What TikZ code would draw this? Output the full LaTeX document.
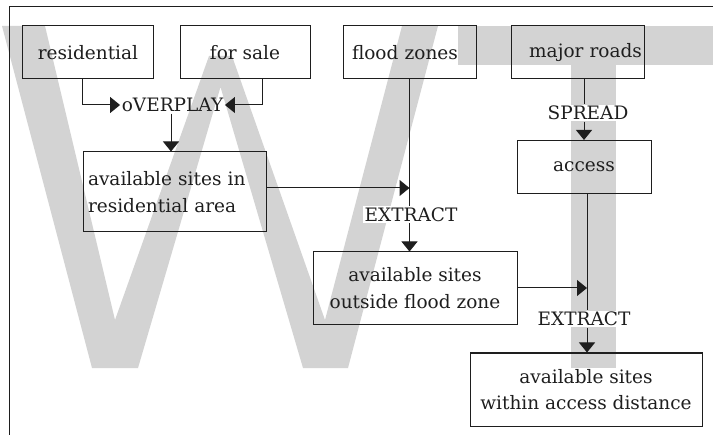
\documentclass[tikz,border=0pt]{standalone}
\usepackage{fontspec}
\setmainfont{DejaVu Serif}
\usetikzlibrary{arrows.meta}
\definecolor{wmgray}{RGB}{211,211,211}
\definecolor{ink}{RGB}{30,30,30}
\begin{document}
\begin{tikzpicture}[x=1bp,y=-1bp,
  font=\fontsize{18.5bp}{26.5bp}\selectfont,
  every node/.style={text=ink},
  box/.style={draw=ink,line width=1bp,inner sep=0pt,align=center},
  tag/.style={fill=white,inner xsep=1.5bp,inner ysep=1.5bp},
  conn/.style={draw=ink,line width=1bp},
  arr/.style={conn,-{Triangle[width=16bp,length=10bp]}}]
\useasboundingbox (0,0) rectangle (713,435);

% watermark letters behind everything
\fill[fill=wmgray] (2,26) -- (45,26) -- (115,320) -- (209,56) -- (232,56)
  -- (325,320) -- (402,26) -- (438,26) -- (348,368) -- (303,368) -- (220.5,87)
  -- (138,368) -- (92,368) -- cycle;
\fill[fill=wmgray] (458,26) rectangle (713,65);
\fill[fill=wmgray] (571,65) rectangle (616,368);

% frame
\draw[conn] (713,7) -- (9,7) -- (9,435);

% input layers
\node[box,minimum width=130bp,minimum height=53bp] (res) at (88,52.5) {residential};
\node[box,minimum width=130bp,minimum height=53bp] (sale) at (245,52.5) {for sale};
\node[box,minimum height=53bp,text width=115bp,align=left,inner xsep=9bp] (fz) at (409.5,52.5) {flood zones};
\node[box,minimum height=53bp,text width=129bp,align=right,inner xsep=2bp] (mr) at (577.5,52.5) {major roads};

% derived layers
\node[box,minimum height=80bp,text width=173bp,align=left,inner xsep=5bp] (avres) at (174.5,192) {available sites in\\residential area};
\node[box,minimum width=134bp,minimum height=53bp] (acc) at (584,167) {access};
\node[box,minimum width=204bp,minimum height=72bp] (ofz) at (415,288) {available sites\\outside flood zone};
\node[box,minimum width=232bp,minimum height=73bp] (wad) at (586,389.5) {available sites\\within access distance};

% operations
\node[inner xsep=1.5bp,inner ysep=1.5bp] (ovl) at (172.5,105) {oVERPLAY};
\node[tag] (spr) at (588,113) {SPREAD};
\node[tag] (ex1) at (411,214.5) {EXTRACT};
\node[tag] (ex2) at (584,319) {EXTRACT};

% connection points
\coordinate (resout) at ([xshift=-6bp]res.south);
\coordinate (saleout) at ([xshift=17bp]sale.south);
\coordinate (ovlout) at ([xshift=-1.5bp]ovl.south);
\coordinate (avresout) at ([yshift=4bp]avres.east);
\coordinate (mrout) at ([xshift=6.5bp]mr.south);
\coordinate (accout) at ([xshift=3bp]acc.south);

% connectors
\draw[arr] (resout) |- (ovl.west);
\draw[arr] (saleout) |- (ovl.east);
\draw[arr] (ovlout) -- (ovlout |- avres.north);
\draw[arr] (avresout) -- (avresout -| fz.south);
\draw[conn] (fz.south) -- (fz.south |- ex1.north);
\draw[arr] (fz.south |- ex1.south) -- (fz.south |- ofz.north);
\draw[conn] (mrout) -- (mrout |- spr.north);
\draw[arr] (acc.north |- spr.south) -- (acc.north);
\draw[conn] (accout) -- (accout |- ex2.north);
\draw[arr] (accout |- ex2.south) -- (accout |- wad.north);
\draw[arr] (ofz.east) -- (ofz.east -| accout);
\end{tikzpicture}
\end{document}
